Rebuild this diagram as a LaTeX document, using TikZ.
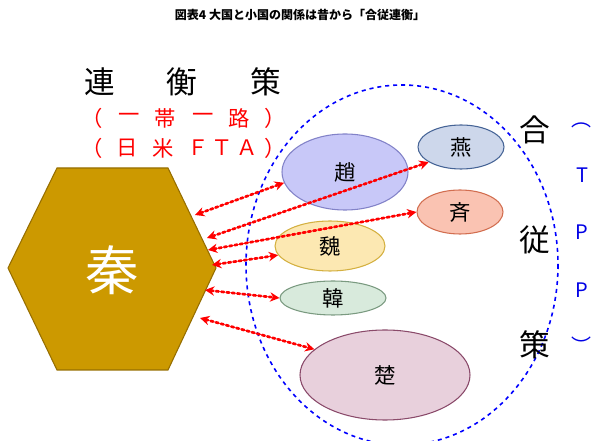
\documentclass[tikz,border=0pt]{standalone}
\usepackage{fontspec}
\setmainfont{Noto Sans CJK JP}
\usetikzlibrary{arrows.meta,shapes.geometric}
\begin{document}
\begin{tikzpicture}[x=0.75pt,y=-0.75pt,
  st/.style={ellipse,draw,line width=0.8pt,inner sep=0pt,font=\fontsize{16}{16}\selectfont},
  big/.style={font=\fontsize{23}{23}\selectfont},
  redt/.style={text=red,font=\fontsize{16}{16}\selectfont},
  blu/.style={text=blue!90!black,font=\fontsize{15}{15}\selectfont},
  rel/.style={draw=red,line width=2pt,dotted,{Stealth[length=7pt,width=7pt]}-{Stealth[length=7pt,width=7pt]},line cap=round}]
\useasboundingbox (0,0) rectangle (600,441);
\node[font=\bfseries\fontsize{9}{9}\selectfont] (title) at (300,15) {図表4\ 大国と小国の関係は昔から「合従連衡」};
\node[big] (l1) at (100,82) {連}; \node[big] (l2) at (182,82) {衡}; \node[big] (l3) at (266,82) {策};
\foreach \t/\x [count=\i] in {（/92,一/129,帯/165,一/203,路/239,）/275}
  \node[redt] (a\i) at (\x,118) {\t};
\foreach \t/\x [count=\i] in {（/92,日/127,米/163,Ｆ/198,Ｔ/222,Ａ/247,）/275}
  \node[redt] (b\i) at (\x,148) {\t};
\draw[fill={rgb,255:red,204;green,153;blue,0},draw={rgb,255:red,150;green,110;blue,0},line width=0.8pt]
  (8,268) -- (57,168) -- (168,168) -- (216,268) -- (168,370) -- (57,370) -- cycle;
\node[text=white,font=\fontsize{40}{40}\selectfont] (qin) at (112,270) {秦};
\draw[blue,dashed,line width=1.2pt] (402,265) ellipse [x radius=156,y radius=180];
\node[st,fill={rgb,255:red,200;green,200;blue,248},draw={rgb,255:red,130;green,130;blue,200},minimum width=126*0.75pt,minimum height=76*0.75pt] (zhao) at (345,172) {趙};
\node[st,fill={rgb,255:red,205;green,215;blue,235},draw={rgb,255:red,70;green,100;blue,150},minimum width=86*0.75pt,minimum height=44*0.75pt] (yan) at (461,147) {燕};
\node[st,fill={rgb,255:red,250;green,195;blue,178},draw={rgb,255:red,210;green,110;blue,80},minimum width=86*0.75pt,minimum height=44*0.75pt] (qi) at (460,212) {斉};
\node[st,fill={rgb,255:red,252;green,232;blue,178},draw={rgb,255:red,212;green,176;blue,64},minimum width=110*0.75pt,minimum height=50*0.75pt] (wei) at (330,246) {魏};
\node[st,fill={rgb,255:red,216;green,234;blue,220},draw={rgb,255:red,122;green,154;blue,128},minimum width=106*0.75pt,minimum height=34*0.75pt] (han) at (333,298) {韓};
\node[st,fill={rgb,255:red,232;green,208;blue,220},draw={rgb,255:red,138;green,74;blue,106},minimum width=170*0.75pt,minimum height=90*0.75pt] (chu) at (385,375) {楚};
\node[big] (h1) at (535,130) {合}; \node[big] (h2) at (535,240) {従}; \node[big] (h3) at (535,345) {策};
\node[blu] (t0) at (581,125) {︵}; \node[blu] (t1) at (582,175) {T};
\node[blu] (t2) at (582,232) {P}; \node[blu] (t3) at (582,290) {P};
\node[blu] (t4) at (581,345) {︶};
\coordinate (q1) at (195,215); \coordinate (q2) at (207,238); \coordinate (q3) at (208,250);
\coordinate (q4) at (212,265); \coordinate (q5) at (205,290); \coordinate (q6) at (200,318);
\draw[rel] (q1) -- (zhao.190);
\draw[rel] (q2) -- (yan.205);
\draw[rel] (q3) -- (qi.180);
\draw[rel] (q4) -- (wei.190);
\draw[rel] (q5) -- (han.180);
\draw[rel] (q6) -- (chu.160);
\end{tikzpicture}
\end{document}
